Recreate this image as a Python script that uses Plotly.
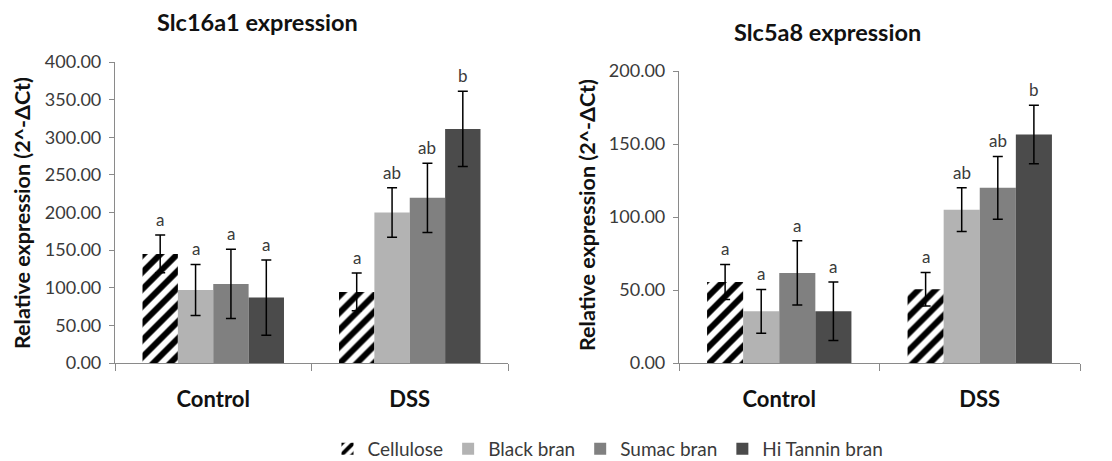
import plotly.graph_objects as go

categories = ["Control", "DSS"]
series = ["Cellulose", "Black bran", "Sumac bran", "Hi Tannin bran"]

slc16_vals = {
    "Cellulose": [145, 94.5],
    "Black bran": [97, 200],
    "Sumac bran": [105, 219.5],
    "Hi Tannin bran": [87, 311],
}
slc16_err = {
    "Cellulose": [25, 25],
    "Black bran": [34, 33],
    "Sumac bran": [46, 46],
    "Hi Tannin bran": [50, 50],
}
slc5_vals = {
    "Cellulose": [55.5, 50.5],
    "Black bran": [35.4, 105],
    "Sumac bran": [61.7, 120],
    "Hi Tannin bran": [35.4, 156.5],
}
slc5_err = {
    "Cellulose": [12, 11.5],
    "Black bran": [15, 15],
    "Sumac bran": [22, 21.5],
    "Hi Tannin bran": [20, 20],
}
sig_labels = {
    "Cellulose": ["a", "a"],
    "Black bran": ["a", "ab"],
    "Sumac bran": ["a", "ab"],
    "Hi Tannin bran": ["a", "b"],
}

colors = {
    "Black bran": "#b3b3b3",
    "Sumac bran": "#808080",
    "Hi Tannin bran": "#4b4b4b",
}

FONT = "Lato"
TXT = "#3a3a3a"
AX = "#8a8a8a"
BARGAP = 0.28

fig = go.Figure()


def marker_for(name):
    if name == "Cellulose":
        return dict(color="white",
                    pattern=dict(shape="/", fgcolor="#000000", bgcolor="white",
                                 fgopacity=1, size=12, solidity=0.5),
                    line=dict(width=0))
    return dict(color=colors[name], line=dict(width=0))


annotations = []
nser = len(series)
barw = (1 - BARGAP) / nser

for panel, (vals, errs, xa, ya) in enumerate(
        [(slc16_vals, slc16_err, "x", "y"), (slc5_vals, slc5_err, "x2", "y2")]):
    for i, name in enumerate(series):
        fig.add_trace(go.Bar(
            x=categories, y=vals[name], name=name,
            xaxis=xa, yaxis=ya,
            marker=marker_for(name),
            error_y=dict(type="data", array=errs[name], color="black",
                         thickness=1.5, width=5),
            showlegend=(panel == 0),
            legendgroup=name,
        ))
        off = -(1 - BARGAP) / 2 + (i + 0.5) * barw
        for c in range(len(categories)):
            annotations.append(dict(
                x=c + off, y=vals[name][c] + errs[name][c],
                xref=xa, yref=ya, text=sig_labels[name][c],
                showarrow=False, xanchor="center", yanchor="bottom", yshift=3,
                font=dict(family=FONT, size=17, color=TXT)))

# titles
TITLE_FONT = dict(family=FONT, size=23.5, color="#111", weight="bold")
YT_FONT = dict(family=FONT, size=21.5, color="#111", weight="bold")
annotations += [
    dict(x=257 / 1112, y=(461 - 22) / 461, xref="paper", yref="paper",
         xanchor="center", yanchor="middle",
         text="Slc16a1 expression", showarrow=False, font=TITLE_FONT),
    dict(x=827 / 1112, y=(461 - 32) / 461, xref="paper", yref="paper",
         xanchor="center", yanchor="middle",
         text="Slc5a8 expression", showarrow=False, font=TITLE_FONT),
    dict(x=22 / 1112, y=(461 - 213) / 461, xref="paper", yref="paper",
         xanchor="center", yanchor="middle",
         text="Relative expression (2^-ΔCt)", textangle=-90, showarrow=False,
         font=YT_FONT),
    dict(x=587 / 1112, y=(461 - 215) / 461, xref="paper", yref="paper",
         xanchor="center", yanchor="middle",
         text="Relative expression (2^-ΔCt)", textangle=-90, showarrow=False,
         font=YT_FONT),
]

xcommon = dict(type="category", showline=True, linecolor=AX, linewidth=1.2,
               ticks="outside", tickson="boundaries", ticklen=7, tickcolor=AX,
               showgrid=False, zeroline=False, ticklabelstandoff=16,
               tickfont=dict(family=FONT, size=22, color="#111", weight="bold"))
ycommon = dict(showline=True, linecolor=AX, linewidth=1.2, ticks="outside",
               ticklen=5, tickcolor=AX, showgrid=False, zeroline=False,
               tickformat=".2f", ticklabelstandoff=4,
               tickfont=dict(family=FONT, size=18, color=TXT))

fig.update_layout(
    width=1112, height=461,
    margin=dict(l=0, r=0, t=0, b=0, autoexpand=False),
    paper_bgcolor="white", plot_bgcolor="white",
    barmode="group", bargap=BARGAP, bargroupgap=0,
    xaxis=dict(domain=[115 / 1112, 508 / 1112], anchor="y", **xcommon),
    yaxis=dict(domain=[98 / 461, 399 / 461], anchor="x", range=[0, 400],
               dtick=50, **ycommon),
    xaxis2=dict(domain=[679 / 1112, 1080 / 1112], anchor="y2", **xcommon),
    yaxis2=dict(domain=[98 / 461, 390 / 461], anchor="x2", range=[0, 200],
                dtick=50, **ycommon),
    legend=dict(orientation="h", x=608 / 1112, xanchor="center", y=12 / 461,
                yanchor="middle", font=dict(family=FONT, size=19, color=TXT),
                itemwidth=30, tracegroupgap=0),
    annotations=annotations,
)

fig.write_html("out.html")
